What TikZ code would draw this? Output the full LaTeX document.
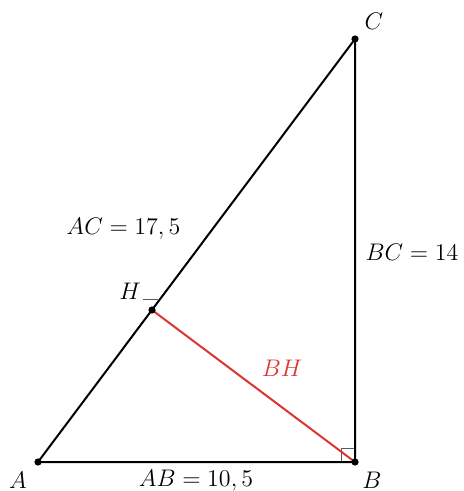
\documentclass[tikz,border=0pt]{standalone}
\usepackage{tikz}
\definecolor{hred}{RGB}{221,52,45}
\definecolor{mgray}{RGB}{90,90,90}
\begin{document}
\begin{tikzpicture}[x=0.5pt,y=-0.5pt,
  side/.style={line width=1pt,black},
  pt/.style={circle,fill=black,inner sep=0pt,minimum size=3.6pt},
  lbl/.style={inner sep=0pt,font=\fontsize{13.2}{15}\selectfont},
  marker/.style={line width=0.5pt,mgray}]
\useasboundingbox (0,0) rectangle (463,491);
\coordinate (A) at (38,462);
\coordinate (B) at (355,462);
\coordinate (C) at (355,39);
\coordinate (H) at (152,310);
\coordinate (m1) at (341,462);
\coordinate (m2) at (341,448);
\coordinate (m3) at (355,448);
\coordinate (h1) at (143,299);
\coordinate (h2) at (158,299);
\draw[marker] (m1) -- (m2) -- (m3);
\draw[marker] (h1) -- (h2);
\draw[side] (A) -- (B) -- (C) -- cycle;
\draw[line width=1pt,hred] (B) -- (H);
\node[pt] (pA) at (A) {};
\node[pt] (pB) at (B) {};
\node[pt] (pC) at (C) {};
\node[pt] (pH) at (H) {};
\node[lbl] (lA) at (18,480) {$A$};
\node[lbl] (lB) at (372,480) {$B$};
\node[lbl] (lC) at (374,21) {$C$};
\node[lbl] (lH) at (130,291) {$H$};
\node[lbl] (lAB) at (196,481) {$AB=10,5$};
\node[lbl] (lAC) at (123.5,229) {$AC=17,5$};
\node[lbl] (lBC) at (412,252) {$BC=14$};
\node[lbl,text=hred] (lBH) at (282,368) {$BH$};
\end{tikzpicture}
\end{document}
